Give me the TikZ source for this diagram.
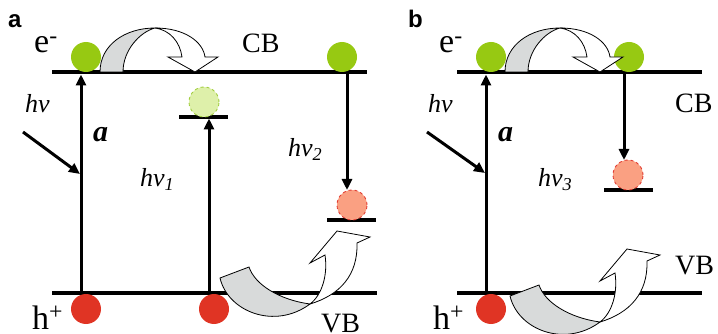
\documentclass[tikz,border=0pt]{standalone}
\usepackage{fontspec}
\setmainfont{Liberation Serif}
\newfontfamily\panelfont{Liberation Sans}
\usetikzlibrary{arrows.meta}

\definecolor{egreen}{RGB}{151,201,18}
\definecolor{trapgfill}{RGB}{222,240,170}
\definecolor{trapgedge}{RGB}{160,205,60}
\definecolor{hred}{RGB}{224,52,36}
\definecolor{traprfill}{RGB}{250,160,130}
\definecolor{trapredge}{RGB}{225,60,50}
\definecolor{ribbongray}{RGB}{216,218,218}

\tikzset{
  % arching ribbon arrow along the conduction band
  hop/.pic={
    \filldraw[fill=ribbongray,line width=0.8pt]
      (0,0) .. controls (0,-27) and (25,-44) .. (55,-44)
      .. controls (40,-40) and (23,-22) .. (23,0) -- cycle;
    \filldraw[fill=white,line width=0.8pt]
      (55,-44) .. controls (85,-44) and (103,-30) .. (105,-15)
      -- (118,-15) -- (95,0) -- (68,-15) -- (82,-15)
      .. controls (80,-30) and (70,-42) .. (55,-44) -- cycle;
  },
  % ribbon arrow dipping below the valence band and rising
  dip/.pic={
    \filldraw[fill=ribbongray,line width=0.8pt]
      (-90,-26) .. controls (-82,8) and (-35,26) .. (0,0)
      .. controls (-30,-4) and (-55,-19) .. (-61,-37) -- cycle;
    \filldraw[fill=white,line width=0.8pt]
      (0,0) .. controls (30,-9) and (48,-29) .. (47,-61)
      -- (60,-67) -- (27,-73) -- (0,-41) -- (15,-49)
      .. controls (18,-29) and (12,-9) .. (0,0) -- cycle;
  },
}

\begin{document}
\begin{tikzpicture}[x=1pt,y=-1pt,
  level/.style={line width=4.5pt},
  traplevel/.style={line width=3.2pt},
  trans/.style={line width=3pt,-{Triangle[length=11pt,width=10pt]}},
  ball/.style={circle,inner sep=0pt,minimum size=30pt},
  electron/.style={ball,fill=egreen},
  hole/.style={ball,fill=hred},
  trappede/.style={ball,fill=trapgfill,draw=trapgedge,dashed,line width=0.9pt},
  trappedh/.style={ball,fill=traprfill,draw=trapredge,dashed,line width=0.9pt},
  panel/.style={font=\panelfont\bfseries\fontsize{24}{24}\selectfont,anchor=base west,inner sep=0pt},
  carrier/.style={font=\fontsize{34}{34}\selectfont,anchor=base west,inner sep=0pt},
  band/.style={font=\fontsize{28}{28}\selectfont,anchor=base west,inner sep=0pt},
  photon/.style={font=\itshape\fontsize{26}{26}\selectfont,anchor=base west,inner sep=0pt},
  pathlabel/.style={font=\bfseries\itshape\fontsize{30}{30}\selectfont,anchor=base west,inner sep=0pt},
]
\useasboundingbox (0,0) rectangle (718,334);

% ---------------- panel a ----------------
\coordinate (a-cb-l) at (52,72);   \coordinate (a-cb-r) at (367,72);
\coordinate (a-vb-l) at (52,293);  \coordinate (a-vb-r) at (377,293);
\coordinate (a-t1-l) at (179,117); \coordinate (a-t1-r) at (228,117);
\coordinate (a-t2-l) at (327,220); \coordinate (a-t2-r) at (376,220);
\draw[level] (a-cb-l) -- (a-cb-r);
\draw[level] (a-vb-l) -- (a-vb-r);
\draw[traplevel] (a-t1-l) -- (a-t1-r);
\draw[traplevel] (a-t2-l) -- (a-t2-r);

\coordinate (a-x1-b) at (81,293);  \coordinate (a-x1-t) at (81,74.5);
\coordinate (a-x2-b) at (209,293); \coordinate (a-x2-t) at (209,118.5);
\coordinate (a-x3-t) at (347,74);  \coordinate (a-x3-b) at (347,190);
\coordinate (a-ph-s) at (23,132);  \coordinate (a-ph-e) at (80,174);
\draw[trans] (a-x1-b) -- (a-x1-t);
\draw[trans] (a-x2-b) -- (a-x2-t);
\draw[trans] (a-x3-t) -- (a-x3-b);
\draw[trans] (a-ph-s) -- (a-ph-e);

\node[electron] (a-e1) at (86,57) {};
\node[electron] (a-e2) at (342,57) {};
\node[trappede] (a-te) at (204,102) {};
\node[trappedh] (a-th) at (352,205) {};
\node[hole] (a-h1) at (86,309) {};
\node[hole] (a-h2) at (214,309) {};

\pic at (100,72) {hop};
\pic at (310,304) {dip};

\node[panel] (a-lbl) at (8,28) {a};
\node[carrier] (a-elec) at (34,53) {e\textsuperscript{-}};
\node[carrier] (a-hole) at (32,329) {h\textsuperscript{+}};
\node[band] (a-cb) at (242,53) {CB};
\node[band] (a-vb) at (321,332) {VB};
\node[photon] (a-hv) at (25,113) {hv};
\node[pathlabel] (a-a) at (93,142) {a};
\node[photon] (a-hv1) at (140,187) {hv\textsubscript{1}};
\node[photon] (a-hv2) at (288,157) {hv\textsubscript{2}};

% ---------------- panel b ----------------
\coordinate (b-cb-l) at (457,72);  \coordinate (b-cb-r) at (702,72);
\coordinate (b-vb-l) at (457,293); \coordinate (b-vb-r) at (702,293);
\coordinate (b-t-l) at (604,190);  \coordinate (b-t-r) at (653,190);
\draw[level] (b-cb-l) -- (b-cb-r);
\draw[level] (b-vb-l) -- (b-vb-r);
\draw[traplevel] (b-t-l) -- (b-t-r);

\coordinate (b-x1-b) at (486,293); \coordinate (b-x1-t) at (486,74.5);
\coordinate (b-x3-t) at (624,74);  \coordinate (b-x3-b) at (624,160);
\coordinate (b-ph-s) at (427,132); \coordinate (b-ph-e) at (485,173);
\draw[trans] (b-x1-b) -- (b-x1-t);
\draw[trans] (b-x3-t) -- (b-x3-b);
\draw[trans] (b-ph-s) -- (b-ph-e);

\node[electron] (b-e1) at (491,57) {};
\node[electron] (b-e2) at (629,57) {};
\node[trappedh] (b-th) at (628,175) {};
\node[hole] (b-h1) at (491,309) {};

\pic at (505,72) {hop};
\pic at (600,322) {dip};

\node[panel] (b-lbl) at (408,28) {b};
\node[carrier] (b-elec) at (439,53) {e\textsuperscript{-}};
\node[carrier] (b-hole) at (433,329) {h\textsuperscript{+}};
\node[band] (b-cb) at (675,113) {CB};
\node[band] (b-vb) at (675,274) {VB};
\node[photon] (b-hv) at (428,113) {hv};
\node[pathlabel] (b-a) at (498,142) {a};
\node[photon] (b-hv3) at (538,187) {hv\textsubscript{3}};
\end{tikzpicture}
\end{document}
